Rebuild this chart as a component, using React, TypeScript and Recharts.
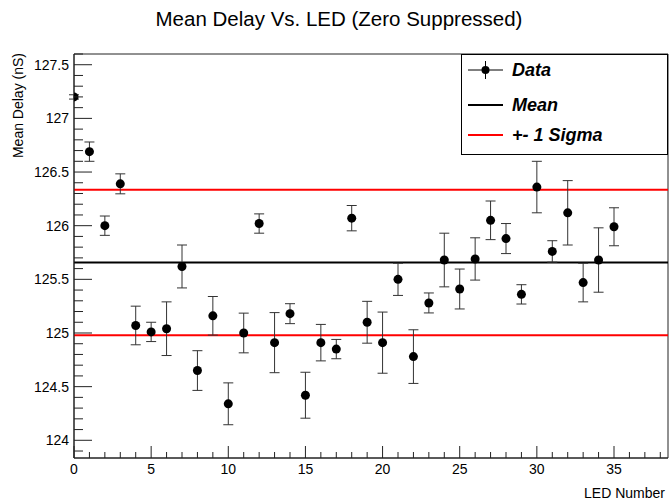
import React from "react";
import {
  ComposedChart,
  Scatter,
  ErrorBar,
  XAxis,
  YAxis,
  ReferenceLine,
  ReferenceArea,
} from "recharts";

// LED numbers
const ledNumbers = [
  0, 1, 2, 3, 4, 5, 6, 7, 8, 9, 10, 11, 12, 13, 14, 15, 16, 17, 18, 19, 20,
  21, 22, 23, 24, 25, 26, 27, 28, 29, 30, 31, 32, 33, 34, 35,
];
// Mean delay (nS) per LED
const meanDelays = [
  127.2, 126.69, 126.0, 126.39, 125.07, 125.01, 125.04, 125.62, 124.65, 125.16,
  124.34, 125.0, 126.02, 124.91, 125.18, 124.42, 124.91, 124.85, 126.07, 125.1,
  124.91, 125.5, 124.78, 125.28, 125.68, 125.41, 125.69, 126.05, 125.88, 125.36,
  126.36, 125.76, 126.12, 125.47, 125.68, 125.99,
];
// Error on the mean delay (nS)
const delayErrors = [
  0.02, 0.09, 0.09, 0.093, 0.18, 0.09, 0.25, 0.2, 0.185, 0.18, 0.195, 0.185,
  0.09, 0.28, 0.093, 0.214, 0.17, 0.09, 0.118, 0.195, 0.285, 0.15, 0.25, 0.093,
  0.25, 0.186, 0.197, 0.18, 0.14, 0.09, 0.24, 0.1, 0.3, 0.18, 0.3, 0.177,
];

const meanValue = 125.658;
const sigmaUpper = 126.335;
const sigmaLower = 124.98;

const xMajorTicks = [0, 5, 10, 15, 20, 25, 30, 35];
const yMajorTicks = [124, 124.5, 125, 125.5, 126, 126.5, 127, 127.5];

const X_MIN = 0;
const X_MAX = 38.5;
const Y_MIN = 123.835;
const Y_MAX = 127.6;

const xTicks: number[] = [];
for (let i = 0; i <= 38; i++) xTicks.push(i);
const yTicks: number[] = [];
for (let i = 0; i <= 37; i++) yTicks.push(Math.round((123.9 + i * 0.1) * 10) / 10);

const data = ledNumbers.map((led, i) => ({
  led,
  delay: meanDelays[i],
  err: delayErrors[i],
}));

const FONT = "'Liberation Sans', Arial, Helvetica, sans-serif";
const AXIS_COLOR = "#222";

const isMajor = (v: number, list: number[]) =>
  list.some((m) => Math.abs(m - v) < 1e-6);

const YTick = (props: any) => {
  const { x, y, payload } = props;
  const v = payload.value as number;
  const major = isMajor(v, yMajorTicks);
  return (
    <g>
      <line
        x1={x}
        x2={x + (major ? 18 : 9)}
        y1={y}
        y2={y}
        stroke={AXIS_COLOR}
        strokeWidth={1}
      />
      {major && (
        <text
          x={x - 5}
          y={y}
          dy={5}
          textAnchor="end"
          fontSize={14}
          fontFamily={FONT}
          fill="#000"
        >
          {String(v)}
        </text>
      )}
    </g>
  );
};

const XTick = (props: any) => {
  const { x, y, payload } = props;
  const v = payload.value as number;
  const major = isMajor(v, xMajorTicks);
  return (
    <g>
      <line
        x1={x}
        x2={x}
        y1={y}
        y2={y - (major ? 12 : 6)}
        stroke={AXIS_COLOR}
        strokeWidth={1}
      />
      {major && (
        <text
          x={x}
          y={y + 16}
          textAnchor="middle"
          fontSize={14}
          fontFamily={FONT}
          fill="#000"
        >
          {String(v)}
        </text>
      )}
    </g>
  );
};

const Dot = (props: any) => {
  const { cx, cy } = props;
  if (cx == null || cy == null) return null;
  return <circle cx={cx} cy={cy} r={4.5} fill="#000" />;
};

const Legend = () => (
  <svg
    width={670}
    height={501}
    style={{ position: "absolute", left: 0, top: 0, pointerEvents: "none" }}
  >
    <rect x={461.5} y={54.5} width={206} height={100} fill="#fff" stroke="#000" strokeWidth={1} />
    {/* Data */}
    <line x1={468} x2={503} y1={70} y2={70} stroke="#000" strokeWidth={1} />
    <line x1={485.5} x2={485.5} y1={61} y2={79} stroke="#000" strokeWidth={1} />
    <circle cx={485.5} cy={70} r={4} fill="#000" />
    <text x={512} y={76} fontSize={18} fontWeight="bold" fontStyle="italic" fontFamily={FONT}>
      Data
    </text>
    {/* Mean */}
    <line x1={468} x2={503} y1={105} y2={105} stroke="#000" strokeWidth={2} />
    <text x={512} y={111} fontSize={18} fontWeight="bold" fontStyle="italic" fontFamily={FONT}>
      Mean
    </text>
    {/* Sigma */}
    <line x1={468} x2={503} y1={135} y2={135} stroke="#ff0000" strokeWidth={2} />
    <text x={512} y={141} fontSize={18} fontWeight="bold" fontStyle="italic" fontFamily={FONT}>
      +- 1 Sigma
    </text>
  </svg>
);

export default function App() {
  return (
    <div
      style={{
        position: "absolute",
        left: 0,
        top: 0,
        width: 670,
        height: 501,
        background: "#fff",
        fontFamily: FONT,
      }}
    >
      <ComposedChart
        width={670}
        height={501}
        data={data}
        margin={{ top: 54, right: 2, bottom: 13, left: 14 }}
      >
        <XAxis
          type="number"
          dataKey="led"
          domain={[X_MIN, X_MAX]}
          ticks={xTicks}
          interval={0}
          tick={<XTick />}
          tickLine={false}
          tickSize={0}
          tickMargin={0}
          height={30}
          axisLine={{ stroke: AXIS_COLOR }}
          allowDataOverflow
        />
        <YAxis
          type="number"
          dataKey="delay"
          domain={[Y_MIN, Y_MAX]}
          ticks={yTicks}
          interval={0}
          tick={<YTick />}
          tickLine={false}
          tickSize={0}
          tickMargin={0}
          width={60}
          axisLine={{ stroke: AXIS_COLOR }}
          allowDataOverflow
        />
        <ReferenceArea
          x1={X_MIN}
          x2={X_MAX}
          y1={Y_MIN}
          y2={Y_MAX}
          fill="none"
          stroke={AXIS_COLOR}
          strokeWidth={1}
        />
        <ReferenceLine y={meanValue} stroke="#000" strokeWidth={2} />
        <ReferenceLine y={sigmaUpper} stroke="#ff0000" strokeWidth={2} />
        <ReferenceLine y={sigmaLower} stroke="#ff0000" strokeWidth={2} />
        <Scatter
          dataKey="delay"
          fill="#000"
          shape={<Dot />}
          isAnimationActive={false}
        >
          <ErrorBar
            dataKey="err"
            direction="y"
            width={5}
            stroke="#333"
            strokeWidth={1}
            isAnimationActive={false}
          />
        </Scatter>
      </ComposedChart>
      <Legend />
      <div
        style={{
          position: "absolute",
          left: 4,
          width: 670,
          top: 7,
          textAlign: "center",
          fontSize: 20.5,
          fontFamily: FONT,
          color: "#000",
          lineHeight: "24px",
        }}
      >
        Mean Delay Vs. LED (Zero Suppressed)
      </div>
      <div
        style={{
          position: "absolute",
          right: 5,
          top: 484,
          fontSize: 14,
          fontFamily: FONT,
          color: "#000",
          lineHeight: "18px",
        }}
      >
        LED Number
      </div>
      <div
        style={{
          position: "absolute",
          left: 9,
          top: 53,
          fontSize: 14,
          fontFamily: FONT,
          color: "#000",
          lineHeight: "18px",
          whiteSpace: "nowrap",
          transform: "rotate(-90deg) translateX(-100%)",
          transformOrigin: "0 0",
        }}
      >
        Mean Delay (nS)
      </div>
    </div>
  );
}
